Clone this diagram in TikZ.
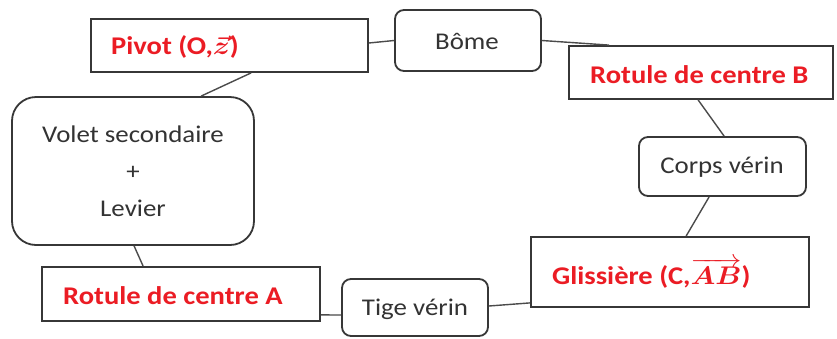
\RequirePackage{fix-cm}
\documentclass[tikz,border=0pt]{standalone}
\usepackage{fontspec}
\setmainfont{Carlito}
\usepackage{bm}
\definecolor{jred}{RGB}{235,28,36}
\definecolor{edgec}{RGB}{55,55,55}
\newcommand\xwide[1]{\scalebox{1.12}[1]{#1}}
\begin{document}
\begin{tikzpicture}[x=1pt,y=-1pt,
 rbox/.style={draw=edgec, line width=1.8pt, fill=white, rounded corners=9pt, inner sep=0pt},
 sbox/.style={draw=edgec, line width=1.8pt, fill=white, inner sep=0pt},
 lbl/.style={inner sep=0pt, text=black!80, font=\fontsize{24}{29}\selectfont},
 rlbl/.style={inner sep=0pt, text=jred, font=\bfseries\fontsize{25.5}{30}\selectfont, anchor=west},
 link/.style={draw=edgec!90, line width=1.4pt}]
\useasboundingbox (0,0) rectangle (837,338);
\fill[white] (0,0) rectangle (837,338);
% boxes
\node[sbox, minimum width=277pt, minimum height=53pt] (pivot) at (229.5,45.5) {};
\node[rbox, minimum width=146pt, minimum height=61pt] (bome) at (468,40.5) {};
\node[sbox, minimum width=264pt, minimum height=53pt] (rotb) at (701,72.5) {};
\node[rbox, minimum width=167pt, minimum height=59pt] (corps) at (722.5,166.5) {};
\node[sbox, minimum width=278pt, minimum height=70pt] (gliss) at (670,272) {};
\node[rbox, minimum width=146pt, minimum height=57pt] (tige) at (415,307.5) {};
\node[sbox, minimum width=278pt, minimum height=54pt] (rota) at (181,294) {};
\node[rbox, rounded corners=24pt, minimum width=242pt, minimum height=148pt, align=center,
      text=black!80, font=\fontsize{24}{37}\selectfont] (volet) at (133,171)
      {\xwide{Volet secondaire}\\\xwide{+}\\\xwide{Levier}};
% labels
\node[rlbl] (pivott) at (111,47) {\xwide{Pivot (O,$\bm{\vec{z}}$)}};
\node[lbl] (bomet) at (467,41) {\xwide{Bôme}};
\node[rlbl] (rotbt) at (590,75) {\xwide{Rotule de centre B}};
\node[lbl] (corpst) at (722,167) {\xwide{Corps vérin}};
\node[rlbl] (glisst) at (552,273) {\xwide{Glissière (C,$\overrightarrow{\bm{AB}}$)}};
\node[lbl] (tiget) at (415,309) {\xwide{Tige vérin}};
\node[rlbl] (rotat) at (63,296) {\xwide{Rotule de centre A}};
% connectors
\draw[link] ([yshift=2.5pt]pivot.east) -- (bome.west);
\draw[link] (bome.east) -- ([xshift=41pt]rotb.north west);
\draw[link] ([xshift=130pt]rotb.south west) -- ([xshift=86pt]corps.north west);
\draw[link] ([xshift=71pt]corps.south west) -- ([xshift=156pt]gliss.north west);
\draw[link] ([yshift=1.5pt]tige.east) -- ([yshift=5pt]gliss.south west);
\draw[link] ([yshift=7pt]rota.south east) -- ([yshift=-7.5pt]tige.west);
\draw[link] ([xshift=161pt]pivot.south west) -- ([xshift=190pt]volet.north west);
\draw[link] ([xshift=123pt]volet.south west) -- ([xshift=102pt]rota.north west);
\end{tikzpicture}
\end{document}
